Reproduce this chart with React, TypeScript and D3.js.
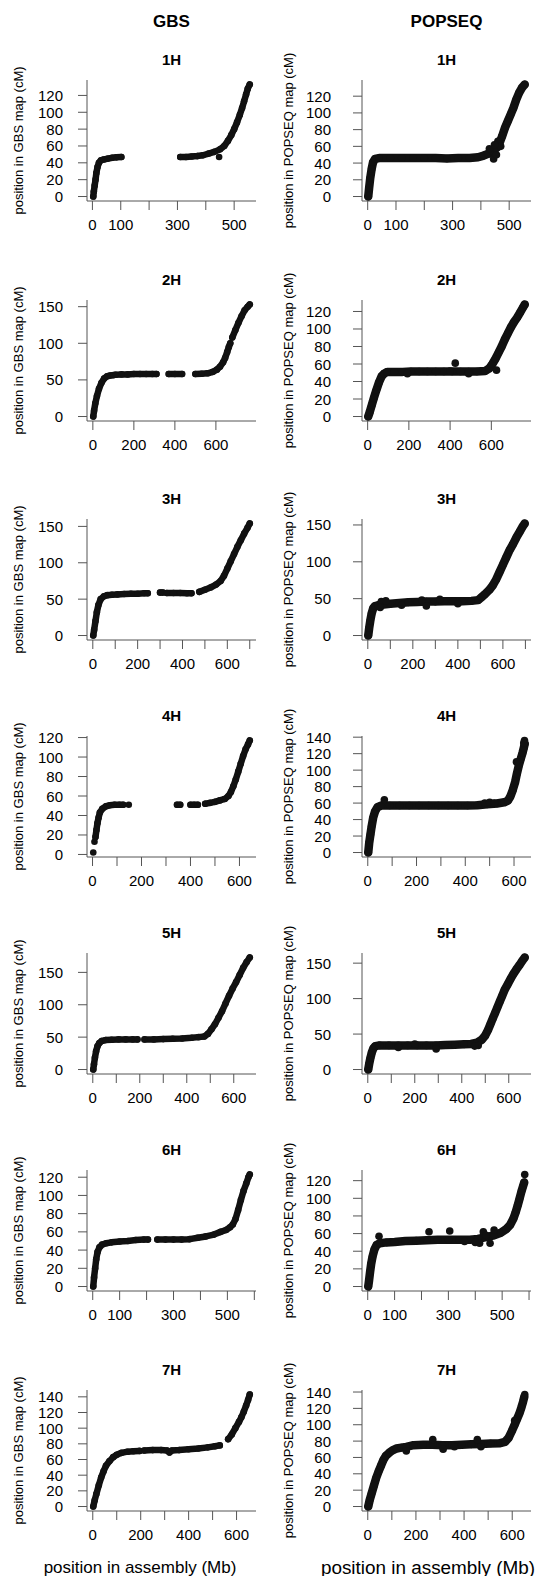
import React from 'react';
import * as d3 from 'd3';

type Pt = [number, number];

// rows and columns of the figure
const chromosomes = ['1H', '2H', '3H', '4H', '5H', '6H', '7H'];
const maps = ['GBS', 'POPSEQ'];

// x ticks (Mb) per chromosome, and the ones that get a label
const xTicks = [
  [0, 100, 200, 300, 400, 500],
  [0, 200, 400, 600],
  [0, 100, 200, 300, 400, 500, 600, 700],
  [0, 100, 200, 300, 400, 500, 600],
  [0, 100, 200, 300, 400, 500, 600],
  [0, 100, 200, 300, 400, 500, 600],
  [0, 100, 200, 300, 400, 500, 600],
];
const xLabels = [
  [0, 100, 300, 500],
  [0, 200, 400, 600],
  [0, 200, 400, 600],
  [0, 200, 400, 600],
  [0, 200, 400, 600],
  [0, 100, 300, 500],
  [0, 200, 400, 600],
];

// y ticks (cM)
const by20 = [0, 20, 40, 60, 80, 100, 120, 140];
const by50 = [0, 50, 100, 150];
const gbsYTicks = [by20, by50, by50, by20, by50, by20, by20];
const popYTicks = [by20, by20, by50, by20, by50, by20, by20];

// GBS map: runs of markers [Mb, cM]; a one-point run is a lone marker
const gbs1H: Pt[][] = [
  [[3, 0], [5, 6], [8, 13], [11, 20], [14, 28], [18, 35], [23, 40], [30, 43], [40, 44], [55, 45], [70, 46], [85, 46.5], [102, 47]],
  [[310, 47], [330, 47], [350, 47.5], [370, 48], [390, 49], [410, 51], [430, 53], [450, 56], [465, 60], [478, 66], [490, 73], [500, 80], [510, 88], [520, 97], [528, 105], [535, 113], [542, 121], [548, 128], [555, 133]],
  [[447, 47]],
];
const gbs2H: Pt[][] = [
  [[2, 0], [6, 8], [12, 18], [20, 28], [30, 38], [42, 46], [55, 52], [70, 55], [85, 56], [100, 56.5]],
  [[110, 57], [140, 57.5], [170, 57.5], [200, 58], [230, 58], [260, 58], [290, 58], [310, 58]],
  [[370, 58], [400, 58], [435, 58]],
  [[500, 58], [530, 58.5], [560, 59], [585, 61], [605, 64], [620, 68], [635, 74], [645, 80], [655, 88], [663, 95], [670, 100]],
  [[680, 108], [695, 118], [710, 128], [725, 137], [740, 145], [755, 150], [765, 153]],
];
const gbs3H: Pt[][] = [
  [[2, 0], [6, 8], [12, 20], [18, 32], [25, 42], [35, 50], [50, 54], [65, 55.5], [85, 56], [110, 56.5], [140, 57], [170, 57.5], [200, 57.5], [230, 58], [245, 58]],
  [[300, 59], [312, 59]],
  [[330, 58.5], [360, 58.5], [390, 58.5], [420, 58], [440, 58]],
  [[475, 60], [500, 63], [525, 66], [550, 70], [570, 75], [585, 82], [600, 92], [615, 102], [630, 112], [645, 122], [660, 131], [675, 140], [690, 148], [700, 154]],
];
const gbs4H: Pt[][] = [
  [[3, 2]],
  [[8, 13]],
  [[12, 18], [16, 25], [20, 32], [25, 38], [30, 43], [40, 47], [55, 49.5], [70, 50.5], [90, 51], [110, 51], [125, 51]],
  [[148, 51]],
  [[345, 51], [358, 51]],
  [[400, 51], [415, 51], [430, 51]],
  [[460, 52], [480, 53], [500, 54], [520, 55.5], [540, 57], [555, 60], [565, 64], [575, 70], [585, 77], [595, 85], [605, 93], [615, 101], [625, 108], [635, 113], [642, 117]],
];
const gbs5H: Pt[][] = [
  [[2, 0], [5, 8], [9, 18], [14, 28], [20, 36], [28, 41], [38, 44], [55, 45.5], [80, 46], [110, 46.5], [140, 46.5], [170, 46.5], [190, 46.5]],
  [[220, 46.5], [260, 46.5], [300, 47], [340, 47.5], [380, 48], [420, 49], [450, 50], [475, 51], [490, 55], [505, 62], [520, 70], [535, 80], [550, 90], [565, 102], [580, 114], [595, 125], [610, 135], [625, 146], [640, 157], [655, 166], [668, 173]],
];
const gbs6H: Pt[][] = [
  [[2, 0], [5, 10], [9, 20], [13, 30], [18, 38], [25, 43], [35, 46], [50, 47.5], [70, 48.5], [100, 49.5], [130, 50], [160, 51], [190, 51.5], [205, 51.5]],
  [[240, 51.5], [270, 51.5], [300, 51.5], [330, 51.5], [360, 52], [390, 53.5], [420, 55], [450, 57], [475, 60], [495, 62], [510, 65], [520, 68], [530, 74], [540, 84], [550, 95], [560, 105], [570, 113], [578, 120], [583, 123]],
];
const gbs7H: Pt[][] = [
  [[2, 0], [8, 8], [15, 16], [25, 27], [35, 37], [45, 45], [55, 52], [70, 58], [85, 63], [100, 66], [120, 68.5], [145, 70], [170, 70.5], [195, 71]],
  [[215, 71.5], [250, 72], [285, 72], [310, 71.5], [320, 69], [330, 71.5], [360, 72], [400, 73], [440, 74], [480, 75.5], [510, 77], [530, 78]],
  [[565, 86], [580, 92], [595, 100], [610, 108], [620, 114], [630, 121], [640, 129], [648, 136], [655, 143]],
];

// POPSEQ map
const pop1H: Pt[][] = [
  [[2, 0], [5, 10], [9, 22], [14, 33], [19, 41], [26, 45], [40, 46], [80, 46], [120, 46], [160, 46], [200, 46], [240, 46], [280, 45.5], [320, 46], [360, 46], [390, 47], [410, 49], [425, 51], [440, 54], [455, 58], [465, 63], [475, 72], [485, 82], [495, 90], [505, 98], [515, 106], [525, 116], [535, 124], [545, 130], [555, 134]],
  [[445, 45]], [[455, 50]], [[430, 57]], [[460, 66]], [[470, 60]], [[448, 62]],
];
const pop2H: Pt[][] = [
  [[3, 0], [10, 5], [20, 13], [30, 21], [42, 30], [55, 39], [68, 46], [80, 49], [95, 51], [130, 51], [170, 51], [210, 51.5], [250, 51.5], [290, 51.5], [330, 51.5], [370, 51.5], [410, 51.5], [450, 51.5], [490, 51.5], [530, 51.5], [570, 52], [590, 55], [605, 60], [620, 66], [635, 73], [650, 80], [665, 88], [680, 95], [695, 102], [710, 108], [725, 113], [740, 119], [752, 124], [762, 128]],
  [[425, 61]], [[490, 49]], [[193, 49]], [[625, 53]], [[400, 52]],
];
const pop3H: Pt[][] = [
  [[2, 0], [6, 10], [11, 20], [17, 30], [24, 37], [32, 40], [45, 41], [70, 42], [100, 43], [140, 44], [180, 45], [220, 45.5], [260, 46], [300, 46], [340, 46.5], [380, 46.5], [420, 46.5], [460, 47], [490, 48], [505, 52], [520, 56], [540, 62], [555, 68], [570, 76], [585, 86], [600, 96], [615, 106], [630, 116], [645, 124], [660, 133], [675, 141], [688, 148], [697, 152]],
  [[60, 46]], [[55, 38]], [[80, 47]], [[260, 40]], [[320, 49]], [[150, 41]], [[400, 43]], [[240, 48]],
];
const pop4H: Pt[][] = [
  [[2, 0], [6, 12], [11, 22], [16, 32], [22, 42], [30, 50], [40, 55], [55, 57], [90, 57], [130, 57], [170, 57], [210, 57], [250, 57], [290, 57], [330, 57], [370, 57], [410, 57], [450, 57.5], [490, 58.5], [530, 59.5], [560, 61], [575, 63], [585, 68], [595, 76], [605, 86], [612, 96], [620, 106], [628, 114], [635, 121], [640, 127], [644, 132]],
  [[68, 64]], [[610, 110]], [[643, 136]], [[640, 133]], [[480, 60]], [[500, 61]], [[520, 60]],
];
const pop5H: Pt[][] = [
  [[2, 0], [6, 8], [11, 16], [17, 24], [24, 30], [32, 33], [50, 34], [90, 34], [130, 34], [170, 34], [210, 34], [250, 34], [290, 34], [330, 34.5], [370, 35], [410, 35.5], [440, 36], [465, 38], [485, 42], [500, 48], [512, 56], [522, 64], [532, 72], [542, 80], [552, 88], [562, 96], [572, 104], [582, 112], [595, 120], [608, 128], [620, 135], [632, 141], [645, 147], [657, 153], [668, 158]],
  [[291, 29]], [[130, 31]], [[470, 34]], [[455, 33]], [[200, 36]],
];
const pop6H: Pt[][] = [
  [[2, 0], [5, 7], [9, 17], [13, 26], [18, 34], [25, 42], [33, 47], [45, 49], [70, 50], [100, 50.5], [140, 51.5], [180, 52], [220, 52.5], [260, 53], [300, 53], [340, 53], [380, 53], [410, 54], [440, 56], [470, 58], [495, 61], [515, 65], [530, 70], [542, 77], [550, 84], [558, 92], [565, 100], [572, 108], [578, 114], [582, 118]],
  [[42, 57]], [[228, 62]], [[305, 63]], [[416, 49]], [[455, 49]], [[430, 62]], [[470, 64]], [[440, 58]], [[584, 127]], [[400, 50]], [[360, 51]],
];
const pop7H: Pt[][] = [
  [[2, 0], [8, 8], [15, 15], [25, 25], [35, 35], [45, 43], [55, 50], [65, 57], [75, 62], [90, 66], [105, 69], [120, 71], [140, 72], [160, 73], [190, 75], [230, 75.5], [270, 75.5], [310, 75], [350, 75], [390, 75.5], [430, 76], [470, 76.5], [510, 77], [550, 77.5], [570, 79], [585, 84], [598, 92], [610, 100], [620, 107], [630, 114], [638, 121], [645, 128], [650, 134]],
  [[270, 82]], [[313, 70]], [[455, 82]], [[160, 68]], [[652, 137]], [[610, 105]], [[470, 73]], [[360, 73]],
];

const gbsData = [gbs1H, gbs2H, gbs3H, gbs4H, gbs5H, gbs6H, gbs7H];
const popData = [pop1H, pop2H, pop3H, pop4H, pop5H, pop6H, pop7H];

// layout
const W = 539;
const H = 1576;
const colLeft = [87, 362];
const yLabelX = [18, 288];
const yNumGap = [24, 31];
const plotW = 169;
const plotH = 121;
const rowTop = [80, 300, 519, 736, 953, 1170, 1390];
const font = 'Liberation Sans, Arial, Helvetica, sans-serif';
const axisColor = '#555';
const tickLen = 9;

interface PanelProps {
  runs: Pt[][];
  title: string;
  mapName: string;
  left: number;
  top: number;
  labelX: number;
  numGap: number;
  xt: number[];
  xl: number[];
  yt: number[];
  band: number;
}

const Panel = ({ runs, title, mapName, left, top, labelX, numGap, xt, xl, yt, band }: PanelProps) => {
  const all = runs.flat();
  const [x0, x1] = d3.extent(all, d => d[0]) as [number, number];
  const [y0, y1] = d3.extent(all, d => d[1]) as [number, number];
  // R style 4% padding of the data range
  const px = (x1 - x0) * 0.04;
  const py = (y1 - y0) * 0.04;
  const x = d3.scaleLinear().domain([x0 - px, x1 + px]).range([left, left + plotW]);
  const y = d3.scaleLinear().domain([y0 - py, y1 + py]).range([top + plotH, top]);
  const line = d3.line<Pt>().x(d => x(d[0])).y(d => y(d[1]));
  const bottom = top + plotH;
  const ys = yt.filter(v => v >= y.domain()[0] && v <= y.domain()[1]);
  const xs = xt.filter(v => v >= x.domain()[0] && v <= x.domain()[1]);

  return (
    <g>
      <text x={left + plotW / 2} y={top - 15} textAnchor="middle"
        fontFamily={font} fontWeight="bold" fontSize={15}>{title}</text>

      {/* L-shaped frame */}
      <path d={`M${left},${top}V${bottom}H${left + plotW}`} fill="none" stroke={axisColor} strokeWidth={1} />

      {ys.map(v => (
        <g key={'y' + v}>
          <line x1={left - tickLen} x2={left} y1={y(v)} y2={y(v)} stroke={axisColor} />
          <text x={left - numGap} y={y(v)} textAnchor="end" dominantBaseline="central"
            fontFamily={font} fontSize={15}>{v}</text>
        </g>
      ))}
      {xs.map(v => (
        <line key={'x' + v} x1={x(v)} x2={x(v)} y1={bottom} y2={bottom + tickLen} stroke={axisColor} />
      ))}
      {xl.map(v => (
        <text key={'xl' + v} x={x(v)} y={bottom + 23} textAnchor="middle" dominantBaseline="central"
          fontFamily={font} fontSize={15}>{v}</text>
      ))}

      <text transform={`translate(${labelX},${top + plotH / 2}) rotate(-90)`} textAnchor="middle"
        dominantBaseline="central" fontFamily={font} fontSize={13}>
        {`position in ${mapName} map (cM)`}
      </text>

      {runs.filter(r => r.length > 1).map((r, i) => (
        <path key={'r' + i} d={line(r) ?? ''} fill="none" stroke="#111" strokeWidth={band}
          strokeLinecap="round" strokeLinejoin="round" />
      ))}
      {all.map((d, i) => (
        <circle key={'c' + i} cx={x(d[0])} cy={y(d[1])} r={band > 7 ? 3.8 : 3.3} fill="#111" />
      ))}
    </g>
  );
};

export default function App() {
  return (
    <svg width={W} height={H} style={{ display: 'block', position: 'absolute', left: 0, top: 0, background: '#fff' }}>
      <rect width={W} height={H} fill="#fff" />
      {maps.map((m, c) => (
        <text key={m} x={colLeft[c] + plotW / 2} y={27} textAnchor="middle"
          fontFamily={font} fontWeight="bold" fontSize={17}>{m}</text>
      ))}
      {chromosomes.map((ch, r) => (
        <g key={ch}>
          <Panel runs={gbsData[r]} title={ch} mapName="GBS" left={colLeft[0]} top={rowTop[r]} labelX={yLabelX[0]}
            numGap={yNumGap[0]} xt={xTicks[r]} xl={xLabels[r]} yt={gbsYTicks[r]} band={6.5} />
          <Panel runs={popData[r]} title={ch} mapName="POPSEQ" left={colLeft[1]} top={rowTop[r]} labelX={yLabelX[1]}
            numGap={yNumGap[1]} xt={xTicks[r]} xl={xLabels[r]} yt={popYTicks[r]} band={8.5} />
        </g>
      ))}
      <text x={140} y={1567} textAnchor="middle" dominantBaseline="central" fontFamily={font} fontSize={17}>
        position in assembly (Mb)
      </text>
      <text x={428} y={1567} textAnchor="middle" dominantBaseline="central" fontFamily={font} fontSize={18.9}>
        position in assembly (Mb)
      </text>
    </svg>
  );
}
